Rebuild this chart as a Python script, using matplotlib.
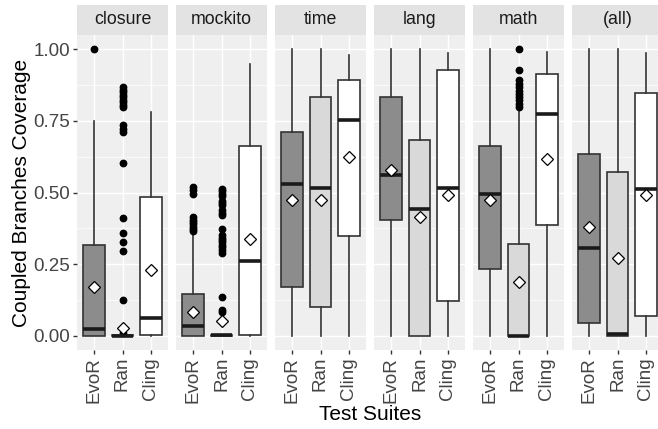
import numpy as np
import matplotlib
matplotlib.use('Agg')
import matplotlib.pyplot as plt
from matplotlib.patches import Rectangle

plt.rcParams['font.family'] = ['Liberation Sans', 'DejaVu Sans']

# datos (estadísticos de cada caja)
facets = ['closure', 'mockito', 'time', 'lang', 'math', '(all)']
suites = ['EvoR', 'Ran', 'Cling']
fills = ['#8C8C8C', '#D9D9D9', '#FFFFFF']

# filas = facetas, columnas = EvoR, Ran, Cling
whislo = [[0.0, 0.0, 0.0], [0.0, 0.0, 0.0], [0.0, 0.0, 0.0],
          [0.0, 0.0, 0.0], [0.0, 0.0, 0.0], [0.0, 0.0, 0.0]]
q1 = [[0.0, 0.0, 0.003], [0.0, 0.0, 0.003], [0.169, 0.099, 0.347],
      [0.404, 0.0, 0.122], [0.233, 0.0, 0.388], [0.043, 0.0, 0.069]]
med = [[0.023, 0.0, 0.062], [0.035, 0.002, 0.262], [0.529, 0.515, 0.752],
       [0.560, 0.444, 0.517], [0.494, 0.0, 0.774], [0.307, 0.006, 0.513]]
q3 = [[0.317, 0.004, 0.485], [0.147, 0.004, 0.663], [0.713, 0.833, 0.892],
      [0.833, 0.684, 0.929], [0.662, 0.319, 0.913], [0.633, 0.571, 0.847]]
whishi = [[0.748, 0.004, 0.781], [0.361, 0.004, 0.950], [1.0, 1.0, 0.981],
          [1.0, 1.0, 0.988], [1.0, 0.798, 0.990], [1.0, 1.0, 0.988]]
means = [[0.170, 0.028, 0.231], [0.084, 0.052, 0.336], [0.474, 0.474, 0.623],
         [0.579, 0.413, 0.490], [0.474, 0.189, 0.618], [0.378, 0.273, 0.492]]

# valores atípicos
fliers = [
    [[1.0],
     [0.868, 0.858, 0.850, 0.841, 0.833, 0.824, 0.815, 0.806, 0.798,
      0.734, 0.722, 0.711, 0.604, 0.41, 0.359, 0.326, 0.297, 0.126, 0.008],
     []],
    [[0.519, 0.507, 0.495, 0.414, 0.405, 0.397, 0.389, 0.381, 0.373, 0.366],
     [0.513, 0.505, 0.495, 0.487, 0.47, 0.463, 0.455, 0.44, 0.428, 0.42,
      0.373, 0.35, 0.342, 0.334, 0.326, 0.318, 0.31, 0.3, 0.29,
      0.136, 0.09, 0.082],
     []],
    [[], [], []],
    [[], [], []],
    [[], [1.0, 0.927, 0.892, 0.88, 0.868, 0.856, 0.845, 0.834, 0.822,
          0.81, 0.798], []],
    [[], [], []],
]

yticks = [0.0, 0.25, 0.5, 0.75, 1.0]
yticklabels = ['0.00', '0.25', '0.50', '0.75', '1.00']

W, H = 658, 429
fig = plt.figure(figsize=(W / 100, H / 100), dpi=100)

panel_left, panel_step, panel_w = 77, 99, 91
panel_top, panel_bot = 35, 350
strip_h = 30

for i, f in enumerate(facets):
    ax = fig.add_axes([(panel_left + i * panel_step) / W, (H - panel_bot) / H,
                       panel_w / W, (panel_bot - panel_top) / H])
    ax.set_facecolor('#EFEFEF')
    stats = []
    for j, s in enumerate(suites):
        stats.append(dict(med=med[i][j], q1=q1[i][j], q3=q3[i][j],
                          whislo=whislo[i][j], whishi=whishi[i][j],
                          mean=means[i][j], fliers=fliers[i][j], label=s))
    bp = ax.bxp(stats, positions=[1, 2, 3], widths=0.75, patch_artist=True,
                showmeans=True, showcaps=False,
                boxprops=dict(edgecolor='#333333', linewidth=1.2),
                whiskerprops=dict(color='#333333', linewidth=1.2),
                medianprops=dict(color='#1A1A1A', linewidth=2.6),
                meanprops=dict(marker='D', markerfacecolor='white',
                               markeredgecolor='black', markersize=6,
                               markeredgewidth=0.9),
                flierprops=dict(marker='o', markerfacecolor='black',
                                markeredgecolor='black', markersize=4.6))
    for patch, c in zip(bp['boxes'], fills):
        patch.set_facecolor(c)

    ax.set_xlim(0.4, 3.6)
    ax.set_ylim(-0.05, 1.05)
    ax.set_axisbelow(True)
    ax.set_yticks(yticks)
    ax.set_yticks([0.125, 0.375, 0.625, 0.875], minor=True)
    ax.grid(True, which='major', color='white', linewidth=1.0)
    ax.grid(True, which='minor', axis='y', color='white', linewidth=0.5)
    for sp in ax.spines.values():
        sp.set_visible(False)

    ax.set_xticks([1, 2, 3])
    ax.set_xticklabels(suites, rotation=90, fontsize=13.5, color='#444444')
    ax.tick_params(axis='x', length=2.75, width=1.0, color='#333333', pad=2.2)
    ax.tick_params(which='minor', length=0)
    if i == 0:
        ax.set_yticklabels(yticklabels, fontsize=13.5, color='#444444')
        ax.tick_params(axis='y', length=2.75, width=1.0, color='#333333', pad=2.2)
    else:
        ax.tick_params(axis='y', length=0, labelleft=False)

    # tira con el nombre de la faceta
    sh = strip_h / (panel_bot - panel_top)
    ax.add_patch(Rectangle((0, 1), 1, sh, transform=ax.transAxes,
                           facecolor='#E3E3E3', edgecolor='none', clip_on=False))
    ax.text(0.5, 1 + sh / 2, f, transform=ax.transAxes, ha='center',
            va='center', fontsize=12.8, color='#1A1A1A')

fig.text(22 / W, 0.55, 'Coupled Branches Coverage', rotation=90,
         ha='center', va='center', fontsize=15, color='black')
fig.text(370 / W, (H - 415) / H, 'Test Suites', ha='center', va='center',
         fontsize=15, color='black')

fig.savefig('out.png', dpi=100)
